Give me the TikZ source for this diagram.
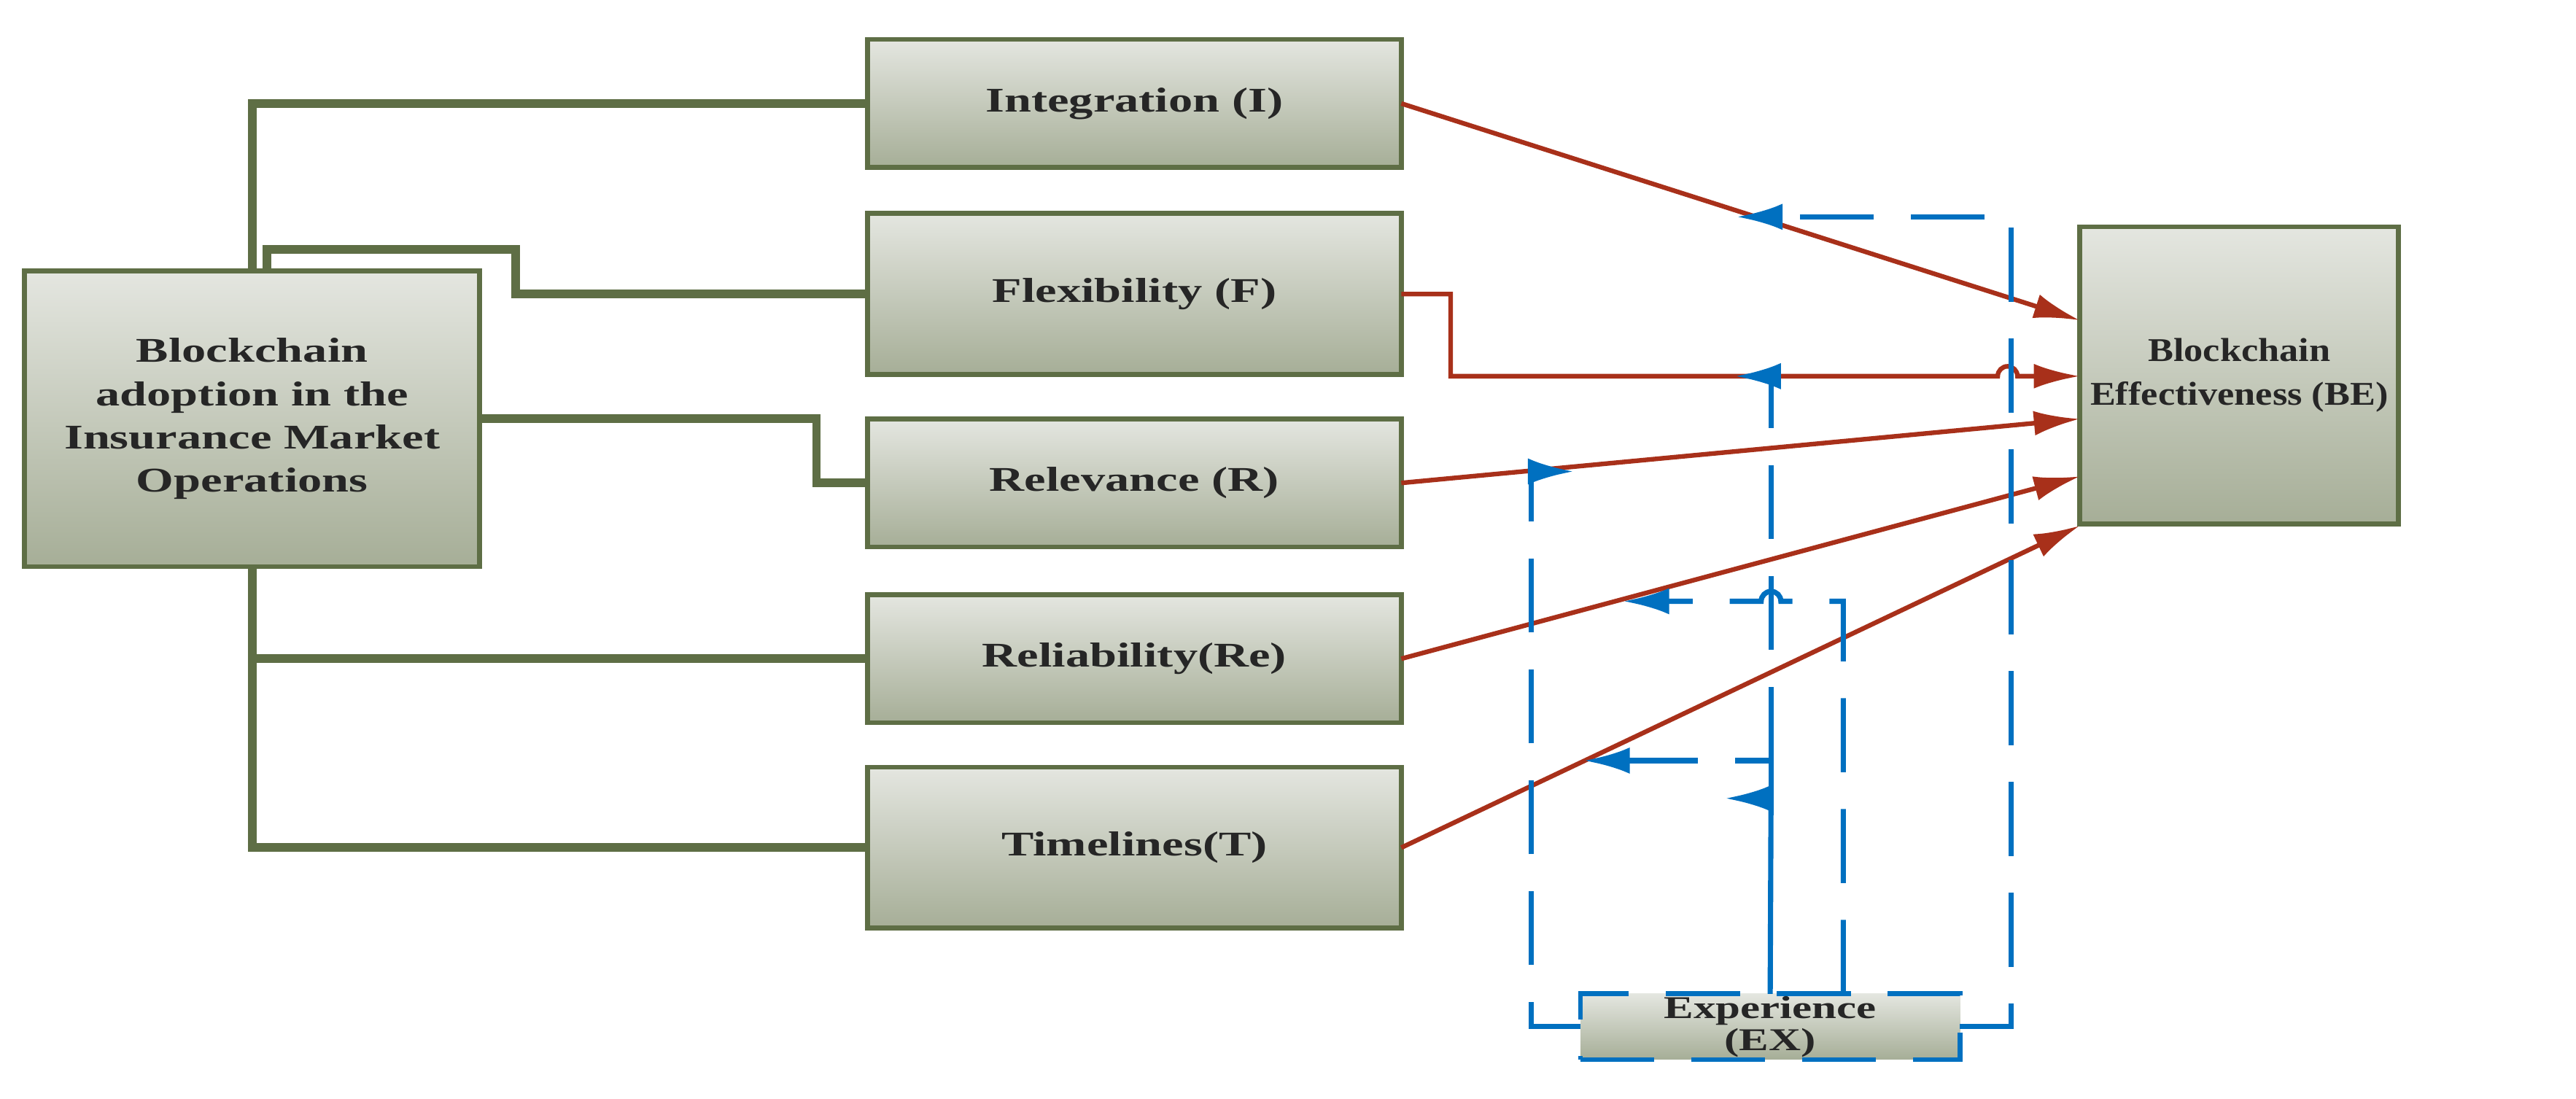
\documentclass[tikz,border=0pt]{standalone}
\usepackage{fontspec}
\setmainfont{Liberation Serif}[FakeStretch=1.4]
\newfontfamily\narrowfont{Liberation Serif}[FakeStretch=1.15]
\usetikzlibrary{positioning,arrows.meta}
\definecolor{boxedge}{HTML}{5E6E45}
\definecolor{boxtop}{HTML}{E4E6E0}
\definecolor{boxbot}{HTML}{A6AE97}
\definecolor{redline}{HTML}{A8301A}
\definecolor{blueline}{HTML}{0070C0}
\tikzset{
  box/.style={draw=boxedge,line width=1.7pt,top color=boxtop,bottom color=boxbot,
    align=center,font=\fontsize{12}{15}\selectfont\bfseries,text=black!85,inner sep=0pt,outer sep=0pt},
  link/.style={draw=boxedge,line width=3pt},
  effect/.style={draw=redline,line width=1.6pt,-{Latex[length=5.6mm,width=3mm]}},
  moderate/.style={draw=blueline,line width=1.8pt,dash pattern=on 0.9cm off 0.45cm,-{Latex[length=5.6mm,width=3.2mm]}},
}
\begin{document}
\begin{tikzpicture}[x=0.02cm,y=-0.02cm]
        \useasboundingbox (0,0) rectangle (1568,669);
        % boxes
        \node [box,minimum width=5.54cm,minimum height=3.6cm] at (153.5,255) (main) {Blockchain\\adoption in the\\Insurance Market\\Operations};
        \node [box,minimum width=6.5cm,minimum height=1.56cm] at (690.5,63) (int) {Integration (I)};
        \node [box,minimum width=6.5cm,minimum height=1.96cm] at (690.5,179) (flex) {Flexibility (F)};
        \node [box,minimum width=6.5cm,minimum height=1.56cm] at (690.5,294) (rel) {Relevance (R)};
        \node [box,minimum width=6.5cm,minimum height=1.56cm] at (690.5,401) (reli) {Reliability(Re)};
        \node [box,minimum width=6.5cm,minimum height=1.96cm] at (690.5,516) (tim) {Timelines(T)};
        \node [box,minimum width=3.88cm,minimum height=3.62cm,
          font=\narrowfont\fontsize{11.5}{15}\selectfont\bfseries] at (1363,228.5) (be) {Blockchain\\Effectiveness (BE)};
        \node [box,draw=blueline,dash pattern=on 0.9cm off 0.45cm,minimum width=4.62cm,minimum height=0.8cm,
          font=\fontsize{11}{11}\selectfont\bfseries] at (1077.5,625) (ex) {Experience\\(EX)};

        % antecedents
        \draw [link] (main.north) |- (int.west);
        \draw [link] ([xshift=0.18cm]main.north) |- (314,152) |- (flex.west);
        \draw [link] (main.east) -- (497,255) |- (rel.west);
        \draw [link] (main.south) |- (reli.west);
        \draw [link] (main.south) |- (tim.west);

        % effects on BE
        \coordinate (bI) at (1266,195);
        \coordinate (bF) at (1266,229);
        \coordinate (bR) at (1266,255);
        \coordinate (bRe) at (1266,290);
        \coordinate (bT) at (1266,320);
        \draw [effect] (int.east) -- (bI);
        \draw [effect] (flex.east) -- (883,179) -- (883,229) -- (1216,229)
          arc [start angle=180,end angle=0,radius=0.12cm] -- (bF);
        \draw [effect] (rel.east) -- (bR);
        \draw [effect] (reli.east) -- (bRe);
        \draw [effect] (tim.east) -- (bT);

        % moderation by experience
        \coordinate (mI) at (1057,132);
        \coordinate (mR) at (958,287);
        \coordinate (mF) at (1056,229);
        \coordinate (mT) at (964,463);
        \coordinate (mRe) at (988,366);
        \coordinate (split) at (1078,463);
        \draw [moderate] (ex.east) -| (1224,132) -- (mI);
        \draw [moderate] (ex.west) -| (932,287) -- (mR);
        \draw [draw=blueline,line width=1.8pt] (ex.north) -- (1078,486);
        \draw [draw=blueline,line width=1.8pt,-{Latex[length=5.6mm,width=3.2mm]}] (1078,486) -- (1050,486);
        \draw [moderate] (1078,486) -- (split) -- (mT);
        \draw [moderate] (split) -- (1078,229) -- (mF);
        \draw [moderate] ([xshift=0.89cm]ex.north) -- (1122,366) -- (1084,366)
          arc [start angle=0,end angle=180,radius=0.12cm] -- (mRe);
\end{tikzpicture}
\end{document}
